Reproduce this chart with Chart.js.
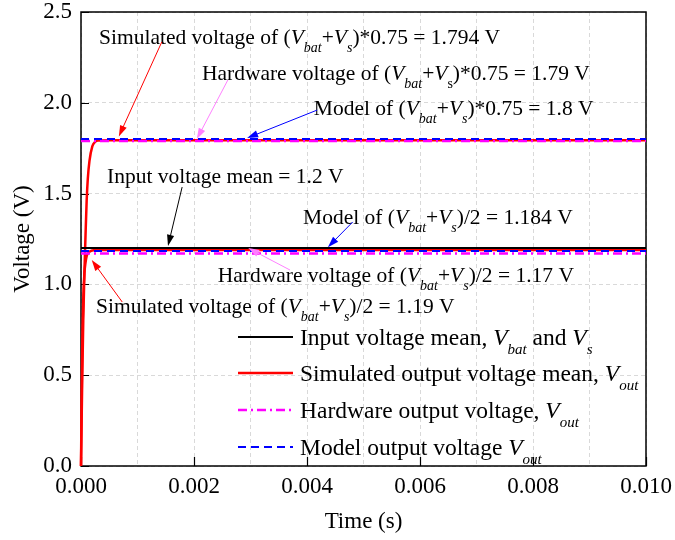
<!DOCTYPE html>
<html>
<head>
<meta charset="utf-8">
<script src="https://cdn.jsdelivr.net/npm/chart.js@4"></script>
<style>
  html, body { margin: 0; padding: 0; background: #fff; }
  #wrap { width: 675px; height: 540px; }
</style>
</head>
<body>
<div id="wrap"><canvas id="chart" width="675" height="540"></canvas></div>
<script>
// ---- data -------------------------------------------------------------
// time samples of the start-up transient (s)
const tRise = [0, 0.00002, 0.00004, 0.00006, 0.00008, 0.0001, 0.00012, 0.00015, 0.0002, 0.00025, 0.0003, 0.0005, 0.01];
// simulated output voltage mean (V): (Vbat+Vs)*0.75 and (Vbat+Vs)/2 branches
const simHigh = [0, 0.44, 0.80, 1.06, 1.27, 1.46, 1.58, 1.68, 1.76, 1.785, 1.792, 1.794, 1.794];
const simLow  = [0, 0.62, 0.92, 1.06, 1.12, 1.155, 1.17, 1.18, 1.187, 1.19, 1.19, 1.19, 1.19];
// steady-state levels over the whole window
const tFlat = [0, 0.01];
const inputMean = [1.2, 1.2];
const hwHigh    = [1.79, 1.79];
const hwLow     = [1.17, 1.17];
const modelHigh = [1.8, 1.8];
const modelLow  = [1.184, 1.184];
// axis ticks
const xLabelTicks = [0, 0.002, 0.004, 0.006, 0.008, 0.010];
const yLabelTicks = [0, 0.5, 1.0, 1.5, 2.0, 2.5];

// call-out notes: text anchor (t, V), arrow start (t, V), arrow tip (t, V)
const notes = [
  { text: 'Simulated voltage of (<i>V</i><s>bat</s>+<i>V</i><s>s</s>)*0.75 = 1.794 V', at: [0.000319, 2.324], from: [0.00143, 2.335], to: [0.00067, 1.815], color: '#ff0000' },
  { text: 'Hardware voltage of (<i>V</i><s>bat</s>+<i>V</i><u>s</u>)*0.75 = 1.79 V', at: [0.00214, 2.126], from: [0.0026, 2.126], to: [0.00205, 1.80], color: '#ff80ff' },
  { text: 'Model of (<i>V</i><s>bat</s>+<i>V</i><s>s</s>)*0.75 = 1.8 V', at: [0.00412, 1.933], from: [0.00418, 1.960], to: [0.00294, 1.806], color: '#0000ff' },
  { text: 'Input voltage mean = 1.2 V', at: [0.00046, 1.558], from: [0.00179, 1.536], to: [0.00154, 1.212], color: '#000000' },
  { text: 'Model of (<i>V</i><s>bat</s>+<i>V</i><s>s</s>)/2 = 1.184 V', at: [0.00393, 1.334], from: [0.00481, 1.344], to: [0.00437, 1.205], color: '#0000ff' },
  { text: 'Hardware voltage of (<i>V</i><s>bat</s>+<i>V</i><s>s</s>)/2 = 1.17 V', at: [0.00242, 1.013], from: [0.0037, 1.079], to: [0.00296, 1.2], color: '#ff80ff' },
  { text: 'Simulated voltage of (<i>V</i><s>bat</s>+<i>V</i><s>s</s>)/2 = 1.19 V', at: [0.000265, 0.843], from: [0.00073, 0.903], to: [0.00019, 1.134], color: '#ff0000' }
];

// legend entries
const legendItems = [
  { text: 'Input voltage mean, <i>V</i><s>bat</s> and <i>V</i><s>s</s>', color: '#000000', width: 2, dash: [] },
  { text: 'Simulated output voltage mean, <i>V</i><s>out</s>', color: '#ff0000', width: 2.5, dash: [] },
  { text: 'Hardware output voltage, <i>V</i><s>out</s>', color: '#ff00ff', width: 2.5, dash: [9, 4, 2, 4] },
  { text: 'Model output voltage <i>V</i><s>out</s>', color: '#0000ff', width: 2, dash: [8, 5] }
];

const FONT = '"Liberation Serif", "Times New Roman", serif';

function pts(xs, ys) { return xs.map((x, i) => ({ x: x, y: ys[i] })); }

// ---- rich text (italic symbols and subscripts) --------------------------
function parseRich(str) {
  const parts = [];
  const re = /<(i|s|u)>(.*?)<\/\1>/g;
  let last = 0, m;
  while ((m = re.exec(str)) !== null) {
    if (m.index > last) parts.push({ t: str.slice(last, m.index), kind: 'n' });
    parts.push({ t: m[2], kind: m[1] });
    last = re.lastIndex;
  }
  if (last < str.length) parts.push({ t: str.slice(last), kind: 'n' });
  return parts;
}

function drawRich(ctx, str, x, y, size, color) {
  ctx.save();
  ctx.fillStyle = color || '#000';
  ctx.textBaseline = 'alphabetic';
  ctx.textAlign = 'left';
  for (const p of parseRich(str)) {
    let fs = size, dy = 0, style = '';
    if (p.kind === 'i') style = 'italic ';
    if (p.kind === 's' || p.kind === 'u') { fs = Math.round(size * 0.64); dy = size * 0.38; }
    if (p.kind === 's') style = 'italic ';
    ctx.font = style + fs + 'px ' + FONT;
    ctx.fillText(p.t, x, y + dy);
    x += ctx.measureText(p.t).width;
  }
  ctx.restore();
}

function arrow(ctx, x1, y1, x2, y2, color) {
  const ang = Math.atan2(y2 - y1, x2 - x1);
  const L = 11, W = 3.6;
  ctx.save();
  ctx.strokeStyle = color; ctx.fillStyle = color; ctx.lineWidth = 1;
  ctx.beginPath();
  ctx.moveTo(x1, y1);
  ctx.lineTo(x2 - Math.cos(ang) * L * 0.8, y2 - Math.sin(ang) * L * 0.8);
  ctx.stroke();
  ctx.beginPath();
  ctx.moveTo(x2, y2);
  ctx.lineTo(x2 - L * Math.cos(ang) + W * Math.sin(ang), y2 - L * Math.sin(ang) - W * Math.cos(ang));
  ctx.lineTo(x2 - L * Math.cos(ang) - W * Math.sin(ang), y2 - L * Math.sin(ang) + W * Math.cos(ang));
  ctx.closePath();
  ctx.fill();
  ctx.restore();
}

// frame and inward tick marks
const framePlugin = {
  id: 'frame',
  beforeDatasetsDraw(chart) {
    const { ctx, chartArea: a, scales } = chart;
    ctx.save();
    ctx.strokeStyle = '#000';
    ctx.lineWidth = 1.5;
    ctx.strokeRect(a.left, a.top, a.right - a.left, a.bottom - a.top);
    ctx.lineWidth = 1.2;
    ctx.beginPath();
    for (const v of xLabelTicks) {
      const px = Math.round(scales.x.getPixelForValue(v)) + 0.5;
      ctx.moveTo(px, a.bottom); ctx.lineTo(px, a.bottom - 9);
    }
    for (const v of yLabelTicks) {
      const py = Math.round(scales.y.getPixelForValue(v)) + 0.5;
      ctx.moveTo(a.left, py); ctx.lineTo(a.left + 8, py);
    }
    ctx.stroke();
    ctx.restore();
  }
};

// call-outs and legend
const notesPlugin = {
  id: 'notes',
  afterDatasetsDraw(chart) {
    const { ctx, chartArea: a, scales } = chart;
    const X = v => scales.x.getPixelForValue(v);
    const Y = v => scales.y.getPixelForValue(v);
    for (const n of notes) {
      drawRich(ctx, n.text, X(n.at[0]), Y(n.at[1]), 21.5, '#000');
      arrow(ctx, X(n.from[0]), Y(n.from[1]), X(n.to[0]), Y(n.to[1]), n.color);
    }
    const rowY = [a.bottom - 129, a.bottom - 93, a.bottom - 56, a.bottom - 19];
    legendItems.forEach((it, i) => {
      const y = rowY[i];
      ctx.save();
      ctx.strokeStyle = it.color;
      ctx.lineWidth = it.width;
      ctx.setLineDash(it.dash);
      ctx.beginPath();
      ctx.moveTo(a.left + 157, y); ctx.lineTo(a.left + 212, y);
      ctx.stroke();
      ctx.restore();
      drawRich(ctx, it.text, a.left + 219, y + 8, 23.5, '#000');
    });
  }
};

const line = (data, color, width, dash, order) => ({
  data: data, borderColor: color, borderWidth: width, borderDash: dash,
  pointRadius: 0, fill: false, cubicInterpolationMode: 'monotone', order: order, clip: 4
});

// keep the plot box fixed: ignore the label overflow padding
function noPad(s) { s.paddingLeft = 0; s.paddingRight = 0; s.paddingTop = 0; s.paddingBottom = 0; }

new Chart(document.getElementById('chart'), {
  type: 'line',
  data: {
    datasets: [
      line(pts(tRise, simHigh), '#ff0000', 2.5, [], 5),
      line(pts(tRise, simLow), '#ff0000', 2.5, [], 5),
      line(pts(tFlat, hwHigh), '#ff00ff', 2.5, [9, 4, 2, 4], 4),
      line(pts(tFlat, hwLow), '#ff00ff', 2.5, [9, 4, 2, 4], 4),
      line(pts(tFlat, modelHigh), '#0000ff', 2, [8, 5], 3),
      line(pts(tFlat, modelLow), '#0000ff', 2, [8, 5], 3),
      line(pts(tFlat, inputMean), '#000000', 2, [], 2)
    ]
  },
  options: {
    responsive: false,
    animation: false,
    events: [],
    layout: { padding: { left: 0, top: 12, right: 29, bottom: 0 } },
    plugins: { legend: { display: false }, tooltip: { enabled: false } },
    scales: {
      x: {
        type: 'linear', min: 0, max: 0.01,
        afterFit(s) { s.height = 74; noPad(s); },
        grid: { color: '#d9d9d9', lineWidth: 1, drawTicks: false },
        border: { display: false, dash: [4, 3] },
        ticks: {
          stepSize: 0.001, autoSkip: false, maxRotation: 0, padding: 7,
          color: '#000', font: { family: FONT, size: 23 },
          callback: v => (Math.round(v * 1000) % 2 === 0 ? v.toFixed(3) : '')
        },
        title: { display: true, text: 'Time (s)', color: '#000', font: { family: FONT, size: 23 }, padding: { top: 0, bottom: 4 } }
      },
      y: {
        type: 'linear', min: 0, max: 2.5,
        afterFit(s) { s.width = 81; noPad(s); },
        grid: { color: '#d9d9d9', lineWidth: 1, drawTicks: false },
        border: { display: false, dash: [4, 3] },
        ticks: {
          stepSize: 0.5, padding: 9,
          color: '#000', font: { family: FONT, size: 23 },
          callback: v => v.toFixed(1)
        },
        title: { display: true, text: 'Voltage (V)', color: '#000', font: { family: FONT, size: 23 }, padding: { top: 9, bottom: 0 } }
      }
    }
  },
  plugins: [framePlugin, notesPlugin]
});
</script>
</body>
</html>
